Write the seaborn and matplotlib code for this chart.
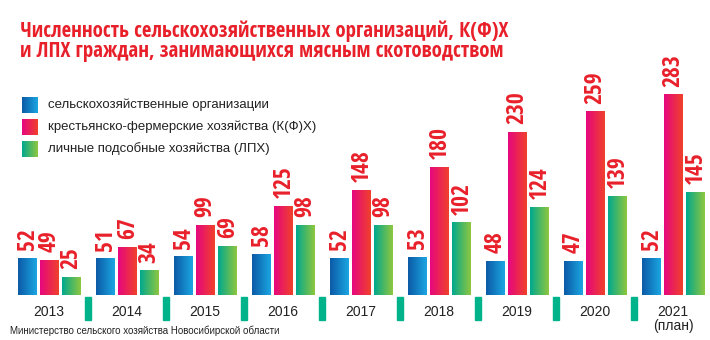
import numpy as np
import pandas as pd
import matplotlib
matplotlib.use("Agg")
import matplotlib.pyplot as plt
import matplotlib.transforms as mtransforms
from matplotlib.colors import LinearSegmentedColormap
from matplotlib.patches import Rectangle
import seaborn as sns

# ---------------- data ----------------
years = ["2013", "2014", "2015", "2016", "2017", "2018", "2019", "2020", "2021"]
year_labels = ["2013", "2014", "2015", "2016", "2017", "2018", "2019", "2020", "2021\n(план)"]
series = [
    "сельскохозяйственные организации",
    "крестьянско-фермерские хозяйства (К(Ф)Х)",
    "личные подсобные хозяйства (ЛПХ)",
]
agri_orgs = [52, 51, 54, 58, 52, 53, 48, 47, 52]
kfh = [49, 67, 99, 125, 148, 180, 230, 259, 283]
lph = [25, 34, 69, 98, 98, 102, 124, 139, 145]
title = ("Численность сельскохозяйственных организаций, К(Ф)Х\n"
         "и ЛПХ граждан, занимающихся мясным скотоводством")
source = "Министерство сельского хозяйства Новосибирской области"

# ---------------- style ----------------
sns.set_theme(style="white")
REG = ["Liberation Sans", "DejaVu Sans"]
COND = ["Open Sans Condensed", "Liberation Sans", "DejaVu Sans"]
plt.rcParams["font.family"] = REG

RED = "#e8202a"
grads = [("#0c5aa6", "#1ba6e2"), ("#e6077f", "#f0412b"), ("#00a88f", "#8fc73e")]
cmaps = [LinearSegmentedColormap.from_list(f"g{i}", g) for i, g in enumerate(grads)]
SEP = "#00b38a"

df = pd.DataFrame({
    "year": years * 3,
    "value": agri_orgs + kfh + lph,
    "series": [series[0]] * 9 + [series[1]] * 9 + [series[2]] * 9,
})

W, H = 710, 340
fig = plt.figure(figsize=(W / 100, H / 100), dpi=100)
fig.patch.set_facecolor("white")
ax = fig.add_axes([10 / W, 45 / H, 700 / W, 255 / H])

sns.barplot(data=df, x="year", y="value", hue="series", order=years,
            hue_order=series, palette=[g[1] for g in grads],
            width=0.846, gap=0.16, legend=False, ax=ax)

grad_img = np.linspace(0, 1, 256)[None, :]
for ci, cont in enumerate(ax.containers):
    for patch in cont.patches:
        x0 = patch.get_x()
        w = patch.get_width()
        h = patch.get_height()
        ax.imshow(grad_img, cmap=cmaps[ci], extent=(x0, x0 + w, 0, h),
                  aspect="auto", zorder=2, interpolation="bilinear")
        patch.set_visible(False)
        ax.annotate(f"{h:.0f}", (x0 + w / 2, h), xytext=(0.5, 6),
                    textcoords="offset points", rotation=90,
                    ha="center", va="bottom", color=RED,
                    fontsize=17, fontweight="bold", family=COND)

ax.set_xlim(-0.5, 8.474)
ax.set_ylim(0, 360.8)
ax.set_xticks(range(len(years)))
ax.set_xticklabels(year_labels, fontsize=10, color="#222222", linespacing=1.0)
ax.tick_params(axis="x", length=0, pad=7)
ax.set_yticks([])
ax.set_xlabel("")
ax.set_ylabel("")
for s in ax.spines.values():
    s.set_visible(False)

# separators between year groups
trans = mtransforms.blended_transform_factory(ax.transData, ax.transAxes)
for i in range(len(years) - 1):
    ax.add_patch(Rectangle((i + 0.5 - 0.036, -25 / 255), 0.072, 23 / 255,
                           transform=trans, color=SEP, clip_on=False))

# legend (gradient squares + labels)
for i, name in enumerate(series):
    top = 97 + i * 22
    lax = fig.add_axes([22 / W, 1 - (top + 16) / H, 16 / W, 16 / H])
    lax.imshow(grad_img, cmap=cmaps[i], aspect="auto", extent=(0, 1, 0, 1))
    lax.set_axis_off()
    fig.text(48 / W, 1 - (top + 8) / H, name, fontsize=9.5, color="#222222",
             va="center", ha="left")

fig.text(20 / W, 1 - 20 / H, title, fontsize=15, fontweight="bold",
         color=RED, va="top", ha="left", linespacing=0.95, family=COND)
fig.text(10 / W, 1 - 331 / H, source, fontsize=7, color="#222222",
         va="center", ha="left")

fig.savefig("out.png", dpi=100, facecolor="white")
